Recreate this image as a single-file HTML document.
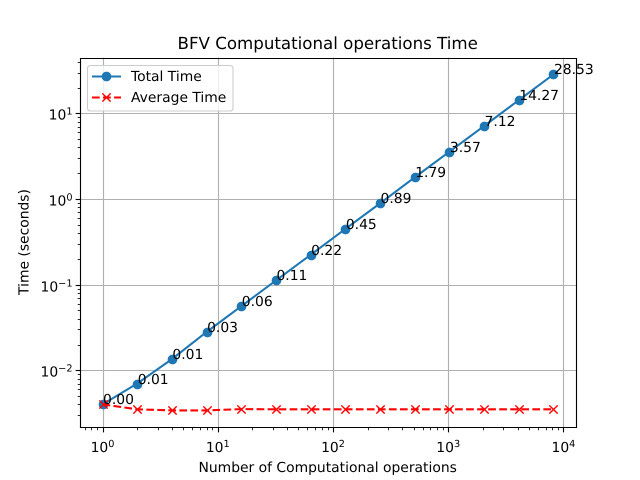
<!DOCTYPE html>
<html>
<head>
<meta charset="utf-8">
<title>BFV Computational operations Time</title>
<style>
html,body{margin:0;padding:0;background:#fff;}
svg{display:block;font-family:"DejaVu Sans","Liberation Sans",sans-serif;text-rendering:geometricPrecision;}
</style>
</head>
<body>
<svg id="chart" xmlns="http://www.w3.org/2000/svg" width="640" height="480" viewBox="0 0 640 480">
<rect x="0" y="0" width="640" height="480" fill="#fff"/>
<g id="grid"></g>
<g id="series"></g>
<g id="frame"></g>
<g id="ticks"></g>
<g id="labels"></g>
<text x="327.7" y="49" font-size="16.67" text-anchor="middle" fill="#000">BFV Computational operations Time</text>
<text x="327.7" y="472" font-size="13.89" text-anchor="middle" fill="#000">Number of Computational operations</text>
<text transform="translate(28.3,242) rotate(-90)" font-size="13.89" text-anchor="middle" fill="#000">Time (seconds)</text>
<g id="legend">
<rect x="87.5" y="65.5" width="145.5" height="45.5" rx="2.8" fill="#fff" fill-opacity="0.8" stroke="#ccc" stroke-width="1.1"/>
<line x1="92" y1="76.5" x2="121" y2="76.5" stroke="#1f77b4" stroke-width="2.08"/>
<circle cx="106.5" cy="76.5" r="4.17" fill="#1f77b4" stroke="#1f77b4" stroke-width="1.39"/>
<text x="131" y="81" font-size="13.89" fill="#000">Total Time</text>
<line x1="92" y1="97.5" x2="121" y2="97.5" stroke="#f00" stroke-width="2.08" stroke-dasharray="7.7 3.33"/>
<path d="M102.33 93.33L110.67 101.67M102.33 101.67L110.67 93.33" stroke="#f00" stroke-width="1.39" fill="none"/>
<text x="131" y="102" font-size="13.89" fill="#000">Average Time</text>
</g>
</svg>
<script>
const operations = [1, 2, 4, 8, 16, 32, 64, 128, 256, 512, 1024, 2048, 4096, 8192];
const totalTime = [0.0040, 0.0070, 0.0135, 0.028, 0.056, 0.112, 0.223, 0.447, 0.89, 1.79, 3.57, 7.12, 14.27, 28.53];
const averageTime = [0.0040, 0.0035, 0.0034, 0.0034, 0.00352, 0.0035, 0.0035, 0.0035, 0.0035, 0.0035, 0.0035, 0.0035, 0.0035, 0.0035];
const xTickExponents = [0, 1, 2, 3, 4];
const yTickExponents = [-2, -1, 0, 1];

const NS = 'http://www.w3.org/2000/svg';
const L = 80, R = 576, T = 57.6, B = 427.2;

function make(parent, tag, attrs, text) {
  const el = document.createElementNS(NS, tag);
  for (const k in attrs) el.setAttribute(k, attrs[k]);
  if (text !== undefined) el.textContent = text;
  parent.appendChild(el);
  return el;
}
function snap(p) { return Math.floor(p + 0.5) + 0.5; }
function logLimits(values) {
  const logs = values.map(Math.log10);
  const lo = Math.min.apply(null, logs), hi = Math.max.apply(null, logs);
  const m = (hi - lo) * 0.05;
  return [lo - m, hi + m];
}
const xLim = logLimits(operations);
const yLim = logLimits(totalTime.concat(averageTime));
function xScale(v) { return L + (Math.log10(v) - xLim[0]) / (xLim[1] - xLim[0]) * (R - L); }
function yScale(v) { return B - (Math.log10(v) - yLim[0]) / (yLim[1] - yLim[0]) * (B - T); }

const gridG = document.getElementById('grid');
const ticksG = document.getElementById('ticks');
const seriesG = document.getElementById('series');
const frameG = document.getElementById('frame');
const labelsG = document.getElementById('labels');
const BS = snap(B);

xTickExponents.forEach(function (e) {
  const raw = xScale(Math.pow(10, e));
  const x = snap(raw);
  const g = make(gridG, 'line', {x1: x, x2: x, y1: T, y2: B, stroke: '#b0b0b0', 'stroke-width': 1.11});
  
  
  const t = make(ticksG, 'line', {x1: x, x2: x, y1: BS, y2: BS + 4.86, stroke: '#000', 'stroke-width': 1.11});
  
  
  const label = make(ticksG, 'text', {x: raw, y: 452, 'font-size': 13.89, 'text-anchor': 'middle', fill: '#000'});
  
  
  make(label, 'tspan', {}, '10');
  make(label, 'tspan', {'font-size': 9.72, dy: -5}, String(e));
});
yTickExponents.forEach(function (e) {
  const y = snap(yScale(Math.pow(10, e)));
  const g = make(gridG, 'line', {x1: L, x2: R, y1: y, y2: y, stroke: '#b0b0b0', 'stroke-width': 1.11});
  
  
  const t = make(ticksG, 'line', {x1: snap(L), x2: snap(L) - 4.86, y1: y, y2: y, stroke: '#000', 'stroke-width': 1.11});
  
  
  const label = make(ticksG, 'text', {x: 72.5, y: y + 6, 'font-size': 13.89, 'text-anchor': 'end', fill: '#000'});
  
  
  make(label, 'tspan', {}, '10');
  make(label, 'tspan', {'font-size': 9.72, dy: -5}, String(e).replace('-', '\u2212'));
});
for (let e = -4; e <= 4; e++) {
  for (let s = 2; s <= 9; s++) {
    const v = s * Math.pow(10, e);
    const lx = Math.log10(v);
    if (lx >= xLim[0] && lx <= xLim[1]) {
      const x = snap(xScale(v));
      const t = make(ticksG, 'line', {x1: x, x2: x, y1: BS, y2: BS + 2.78, stroke: '#000', 'stroke-width': 0.83});
      
      
    }
    if (lx >= yLim[0] && lx <= yLim[1]) {
      const y = snap(yScale(v));
      const t = make(ticksG, 'line', {x1: snap(L), x2: snap(L) - 2.78, y1: y, y2: y, stroke: '#000', 'stroke-width': 0.83});
      
      
    }
  }
}

const totalPts = operations.map(function (v, i) { return xScale(v) + ',' + yScale(totalTime[i]); }).join(' ');
const totalLine = make(seriesG, 'polyline', {points: totalPts, fill: 'none', stroke: '#1f77b4', 'stroke-width': 2.08});


operations.forEach(function (v, i) {
  const c = make(seriesG, 'circle', {cx: snap(xScale(v)), cy: snap(yScale(totalTime[i])), r: 4.17, fill: '#1f77b4', stroke: '#1f77b4', 'stroke-width': 1.39});
  
  
});
const avgPts = operations.map(function (v, i) { return xScale(v) + ',' + yScale(averageTime[i]); }).join(' ');
const avgLine = make(seriesG, 'polyline', {points: avgPts, fill: 'none', stroke: '#f00', 'stroke-width': 2.08, 'stroke-dasharray': '7.7 3.33'});


operations.forEach(function (v, i) {
  const x = snap(xScale(v)), y = snap(yScale(averageTime[i])), r = 4.17;
  const m = make(seriesG, 'path', {
    d: 'M' + (x - r) + ' ' + (y - r) + 'L' + (x + r) + ' ' + (y + r) + 'M' + (x - r) + ' ' + (y + r) + 'L' + (x + r) + ' ' + (y - r),
    stroke: '#f00', 'stroke-width': 1.39, fill: 'none'
  });
  
  
});

const spines = [[snap(L), snap(T), snap(R), snap(T)], [snap(L), BS, snap(R), BS], [snap(L), snap(T), snap(L), BS], [snap(R), snap(T), snap(R), BS]];
spines.forEach(function (s) {
  const l = make(frameG, 'line', {x1: s[0], y1: s[1], x2: s[2], y2: s[3], stroke: '#000', 'stroke-width': 1.11, 'stroke-linecap': 'square'});
  
  
});

operations.forEach(function (v, i) {
  const t = make(labelsG, 'text', {x: xScale(v) + 0.5, y: Math.round(yScale(totalTime[i])), 'font-size': 13.89, fill: '#000'}, totalTime[i].toFixed(2));
  
  
});
</script>
</body>
</html>
